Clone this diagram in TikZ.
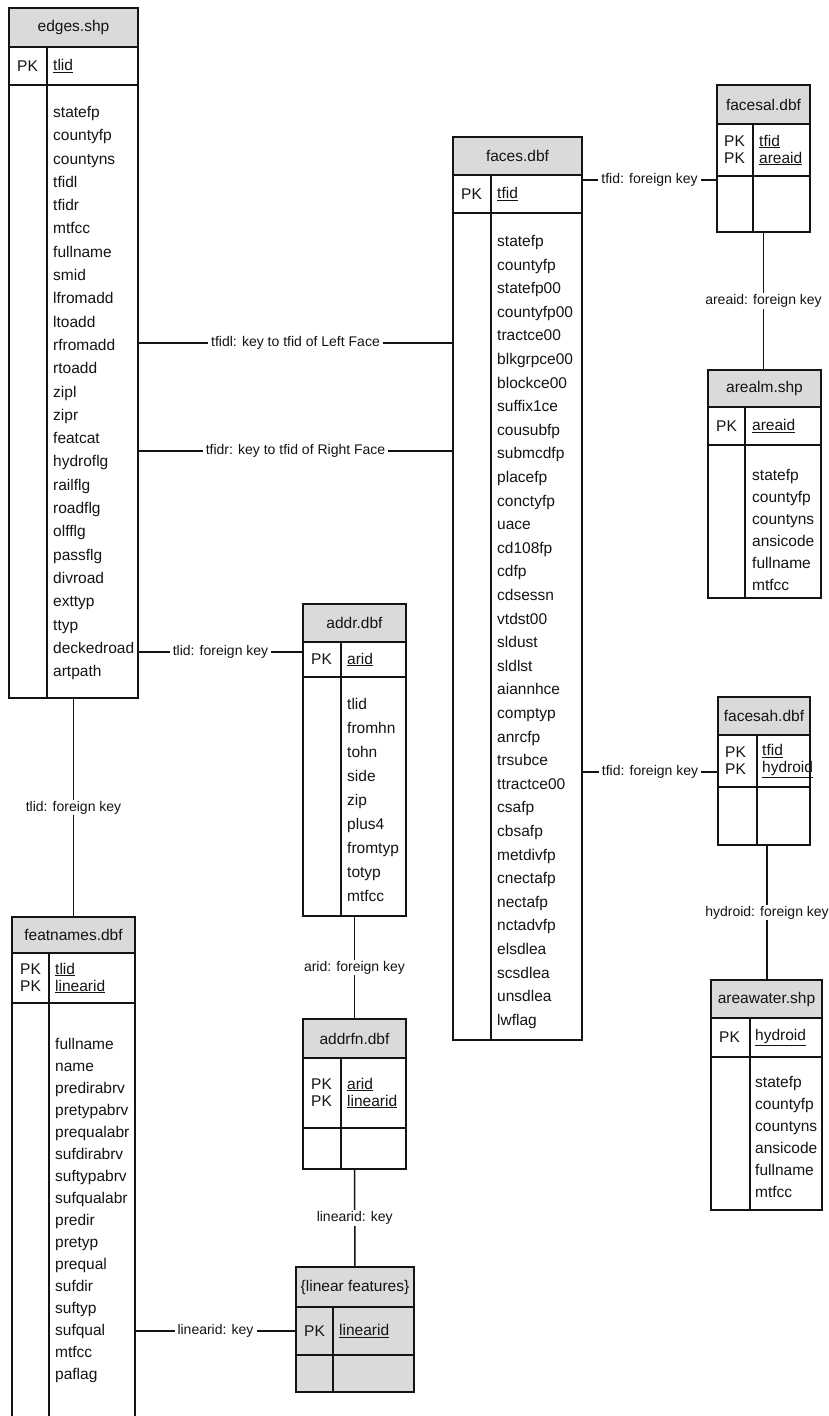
\documentclass[tikz,border=0pt]{standalone}
\usepackage{fontspec}
\setmainfont{Liberation Sans}
\usetikzlibrary{positioning}
\definecolor{cHead}{RGB}{218,218,218}
\definecolor{cEdge}{RGB}{20,20,20}
\newcommand{\tabfont}{\fontsize{15.5pt}{17pt}\selectfont}
\newcommand{\labfont}{\fontsize{14pt}{16pt}\selectfont}
\tikzset{
  tabhead/.style={rectangle, draw=cEdge, fill=cHead, line width=1.8pt,
    inner sep=0pt, outer sep=0pt, anchor=north west, font=\tabfont, text=cEdge},
  tabrow/.style={rectangle, draw=cEdge, line width=1.8pt,
    inner sep=0pt, outer sep=0pt, anchor=north west},
  tabline/.style={draw=cEdge, line width=1.8pt},
  tabtxt/.style={inner sep=0pt, anchor=west, align=left, font=\tabfont, text=cEdge},
  fieldlist/.style={inner sep=0pt, anchor=north west, align=left, text=cEdge},
  fkline/.style={draw=cEdge, line width=1.5pt},
  fklabel/.style={fill=white, inner xsep=3pt, inner ysep=1pt, font=\labfont, text=cEdge},
}

\begin{document}
\begin{tikzpicture}[x=1pt, y=-1pt]
\useasboundingbox[fill=white] (0,0) rectangle (828,1416);

% edges.shp
\node[tabhead, minimum width=129pt, minimum height=39pt] (edges) at (9,8) {edges.shp};
\node[tabrow, minimum width=129pt, minimum height=38pt, below=0pt of edges] (edgeskey) {};
\node[tabrow, minimum width=129pt, minimum height=613pt, below=0pt of edgeskey] (edgesbody) {};
\draw[tabline] ([xshift=38pt]edgeskey.north west) -- ([xshift=38pt]edgesbody.south west);
\node[tabtxt] (edgespk) at ([xshift=8pt]edgeskey.west) {PK};
\node[tabtxt] (edgesid) at ([xshift=44pt]edgeskey.west) {\underline{tlid}};
\node[fieldlist, font=\fontsize{15.5pt}{23.3pt}\selectfont] (edgesfld)
  at ([xshift=44pt,yshift=-21pt]edgesbody.north west)
  {statefp\\countyfp\\countyns\\tfidl\\tfidr\\mtfcc\\fullname\\smid\\lfromadd\\ltoadd\\
   rfromadd\\rtoadd\\zipl\\zipr\\featcat\\hydroflg\\railflg\\roadflg\\olfflg\\passflg\\
   divroad\\exttyp\\ttyp\\deckedroad\\artpath};

% faces.dbf
\node[tabhead, minimum width=129pt, minimum height=38pt] (faces) at (453,137) {faces.dbf};
\node[tabrow, minimum width=129pt, minimum height=38pt, below=0pt of faces] (faceskey) {};
\node[tabrow, minimum width=129pt, minimum height=827pt, below=0pt of faceskey] (facesbody) {};
\draw[tabline] ([xshift=38pt]faceskey.north west) -- ([xshift=38pt]facesbody.south west);
\node[tabtxt] (facespk) at ([xshift=8pt]faceskey.west) {PK};
\node[tabtxt] (facesid) at ([xshift=44pt]faceskey.west) {\underline{tfid}};
\node[fieldlist, font=\fontsize{15.5pt}{23.6pt}\selectfont] (facesfld)
  at ([xshift=44pt,yshift=-22pt]facesbody.north west)
  {statefp\\countyfp\\statefp00\\countyfp00\\tractce00\\blkgrpce00\\blockce00\\suffix1ce\\
   cousubfp\\submcdfp\\placefp\\conctyfp\\uace\\cd108fp\\cdfp\\cdsessn\\vtdst00\\sldust\\
   sldlst\\aiannhce\\comptyp\\anrcfp\\trsubce\\ttractce00\\csafp\\cbsafp\\metdivfp\\
   cnectafp\\nectafp\\nctadvfp\\elsdlea\\scsdlea\\unsdlea\\lwflag};

% facesal.dbf
\node[tabhead, minimum width=93pt, minimum height=39pt] (facesal) at (717,85) {facesal.dbf};
\node[tabrow, minimum width=93pt, minimum height=52pt, below=0pt of facesal] (facesalkey) {};
\node[tabrow, minimum width=93pt, minimum height=56pt, below=0pt of facesalkey] (facesalnil) {};
\draw[tabline] ([xshift=36pt]facesalkey.north west) -- ([xshift=36pt]facesalnil.south west);
\node[tabtxt] (facesalpk) at ([xshift=7pt]facesalkey.west) {PK\\PK};
\node[tabtxt] (facesalid) at ([xshift=42pt]facesalkey.west) {\underline{tfid}\\\underline{areaid}};

% arealm.shp
\node[tabhead, minimum width=113pt, minimum height=37pt] (arealm) at (708,370) {arealm.shp};
\node[tabrow, minimum width=113pt, minimum height=38pt, below=0pt of arealm] (arealmkey) {};
\node[tabrow, minimum width=113pt, minimum height=153pt, below=0pt of arealmkey] (arealmbody) {};
\draw[tabline] ([xshift=37pt]arealmkey.north west) -- ([xshift=37pt]arealmbody.south west);
\node[tabtxt] (arealmpk) at ([xshift=8pt]arealmkey.west) {PK};
\node[tabtxt] (arealmid) at ([xshift=44pt]arealmkey.west) {\underline{areaid}};
\node[fieldlist, font=\fontsize{15.5pt}{22pt}\selectfont] (arealmfld)
  at ([xshift=44pt,yshift=-24pt]arealmbody.north west)
  {statefp\\countyfp\\countyns\\ansicode\\fullname\\mtfcc};

% facesah.dbf
\node[tabhead, minimum width=92pt, minimum height=38pt] (facesah) at (718,697) {facesah.dbf};
\node[tabrow, minimum width=92pt, minimum height=52pt, below=0pt of facesah] (facesahkey) {};
\node[tabrow, minimum width=92pt, minimum height=58pt, below=0pt of facesahkey] (facesahnil) {};
\draw[tabline] ([xshift=39pt]facesahkey.north west) -- ([xshift=39pt]facesahnil.south west);
\node[tabtxt] (facesahpk) at ([xshift=7pt]facesahkey.west) {PK\\PK};
\node[tabtxt] (facesahid) at ([xshift=44pt]facesahkey.west) {\underline{tfid}\\\underline{hydroid}};

% areawater.shp
\node[tabhead, minimum width=111pt, minimum height=38pt] (areawater) at (711,980) {areawater.shp};
\node[tabrow, minimum width=111pt, minimum height=39pt, below=0pt of areawater] (areawaterkey) {};
\node[tabrow, minimum width=111pt, minimum height=153pt, below=0pt of areawaterkey] (areawaterbody) {};
\draw[tabline] ([xshift=39pt]areawaterkey.north west) -- ([xshift=39pt]areawaterbody.south west);
\node[tabtxt] (areawaterpk) at ([xshift=8pt]areawaterkey.west) {PK};
\node[tabtxt] (areawaterid) at ([xshift=44pt]areawaterkey.west) {\underline{hydroid}};
\node[fieldlist, font=\fontsize{15.5pt}{22pt}\selectfont] (areawaterfld)
  at ([xshift=44pt,yshift=-19pt]areawaterbody.north west)
  {statefp\\countyfp\\countyns\\ansicode\\fullname\\mtfcc};

% addr.dbf
\node[tabhead, minimum width=103pt, minimum height=38pt] (addr) at (303,604) {addr.dbf};
\node[tabrow, minimum width=103pt, minimum height=35pt, below=0pt of addr] (addrkey) {};
\node[tabrow, minimum width=103pt, minimum height=239pt, below=0pt of addrkey] (addrbody) {};
\draw[tabline] ([xshift=38pt]addrkey.north west) -- ([xshift=38pt]addrbody.south west);
\node[tabtxt] (addrpk) at ([xshift=8pt]addrkey.west) {PK};
\node[tabtxt] (addrid) at ([xshift=44pt]addrkey.west) {\underline{arid}};
\node[fieldlist, font=\fontsize{15.5pt}{24pt}\selectfont] (addrfld)
  at ([xshift=44pt,yshift=-21pt]addrbody.north west)
  {tlid\\fromhn\\tohn\\side\\zip\\plus4\\fromtyp\\totyp\\mtfcc};

% addrfn.dbf
\node[tabhead, minimum width=103pt, minimum height=39pt] (addrfn) at (303,1019) {addrfn.dbf};
\node[tabrow, minimum width=103pt, minimum height=70pt, below=0pt of addrfn] (addrfnkey) {};
\node[tabrow, minimum width=103pt, minimum height=41pt, below=0pt of addrfnkey] (addrfnnil) {};
\draw[tabline] ([xshift=38pt]addrfnkey.north west) -- ([xshift=38pt]addrfnnil.south west);
\node[tabtxt] (addrfnpk) at ([xshift=8pt]addrfnkey.west) {PK\\PK};
\node[tabtxt] (addrfnid) at ([xshift=44pt]addrfnkey.west) {\underline{arid}\\\underline{linearid}};

% {linear features}
\node[tabhead, minimum width=118pt, minimum height=40pt] (linfeat) at (296,1267) {\{linear features\}};
\node[tabhead, minimum width=118pt, minimum height=48pt, below=0pt of linfeat] (linfeatkey) {};
\node[tabhead, minimum width=118pt, minimum height=37pt, below=0pt of linfeatkey] (linfeatnil) {};
\draw[tabline] ([xshift=37pt]linfeatkey.north west) -- ([xshift=37pt]linfeatnil.south west);
\node[tabtxt] (linfeatpk) at ([xshift=8pt]linfeatkey.west) {PK};
\node[tabtxt] (linfeatid) at ([xshift=43pt]linfeatkey.west) {\underline{linearid}};

% featnames.dbf
\node[tabhead, minimum width=123pt, minimum height=36pt] (featnames) at (12,917) {featnames.dbf};
\node[tabrow, minimum width=123pt, minimum height=50pt, below=0pt of featnames] (featnameskey) {};
\node[tabrow, minimum width=123pt, minimum height=440pt, below=0pt of featnameskey] (featnamesbody) {};
\draw[tabline] ([xshift=37pt]featnameskey.north west) -- ([xshift=37pt]featnamesbody.south west);
\node[tabtxt] (featnamespk) at ([xshift=8pt]featnameskey.west) {PK\\PK};
\node[tabtxt] (featnamesid) at ([xshift=43pt]featnameskey.west) {\underline{tlid}\\\underline{linearid}};
\node[fieldlist, font=\fontsize{15.5pt}{22pt}\selectfont] (featnamesfld)
  at ([xshift=43pt,yshift=-35pt]featnamesbody.north west)
  {fullname\\name\\predirabrv\\pretypabrv\\prequalabr\\sufdirabrv\\suftypabrv\\sufqualabr\\
   predir\\pretyp\\prequal\\sufdir\\suftyp\\sufqual\\mtfcc\\paflag};

% connectors
\draw[fkline] ([yshift=-258pt]edgesbody.north east)
  -- node[fklabel] {tfidl: key to tfid of Left Face} ([yshift=-130pt]facesbody.north west);
\draw[fkline] ([yshift=-366pt]edgesbody.north east)
  -- node[fklabel] {tfidr: key to tfid of Right Face} ([yshift=-238pt]facesbody.north west);
\draw[fkline] ([yshift=-567pt]edgesbody.north east)
  -- node[fklabel] {tlid: foreign key} ([yshift=-10pt]addrkey.north west);
\draw[fkline] (edgesbody.south) -- node[fklabel] {tlid: foreign key} (featnames.north);
\draw[fkline] ([yshift=-5pt]faceskey.north east)
  -- node[fklabel] {tfid: foreign key} ([yshift=-56pt]facesalkey.north west);
\draw[fkline] ([yshift=-559pt]facesbody.north east)
  -- node[fklabel] {tfid: foreign key} ([yshift=-37pt]facesahkey.north west);
\draw[fkline] (facesalnil.south) -- node[fklabel] {areaid: foreign key} (facesalnil.south |- arealm.north);
\draw[fkline] ([xshift=3pt]facesahnil.south) -- node[fklabel] {hydroid: foreign key} ([xshift=3pt]facesahnil.south |- areawater.north);
\draw[fkline] (addrbody.south) -- node[fklabel] {arid: foreign key} (addrfn.north);
\draw[fkline] (addrfnnil.south) -- node[fklabel] {linearid: key} (linfeat.north);
\draw[fkline] (linfeatkey.west -| featnamesbody.east) -- node[fklabel] {linearid: key} (linfeatkey.west);

\end{tikzpicture}
\end{document}
